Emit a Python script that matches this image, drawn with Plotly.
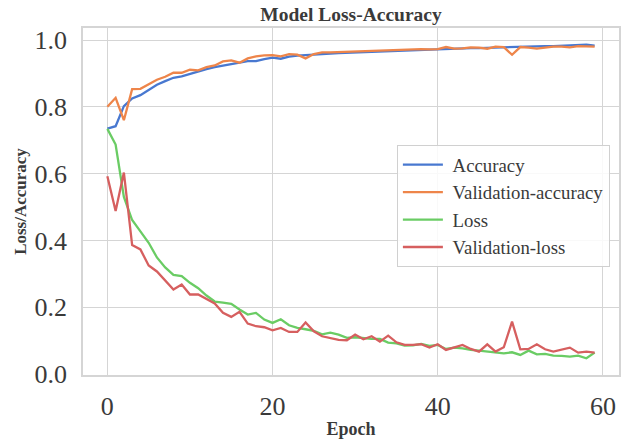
import plotly.graph_objects as go

epochs = list(range(60))

accuracy = [0.735, 0.742, 0.802, 0.825, 0.835, 0.850, 0.866, 0.877, 0.887, 0.891,
            0.899, 0.906, 0.913, 0.919, 0.923, 0.926, 0.932, 0.937, 0.937, 0.943,
            0.947, 0.944, 0.950, 0.953, 0.954, 0.956, 0.958, 0.959, 0.961, 0.962,
            0.963, 0.964, 0.965, 0.966, 0.968, 0.968, 0.969, 0.970, 0.971, 0.971,
            0.973, 0.974, 0.974, 0.975, 0.976, 0.976, 0.977, 0.978, 0.978, 0.979,
            0.980, 0.980, 0.981, 0.982, 0.982, 0.983, 0.983, 0.983, 0.986, 0.983]

val_accuracy = [0.800, 0.827, 0.760, 0.853, 0.854, 0.867, 0.881, 0.890, 0.902, 0.902,
                0.911, 0.909, 0.919, 0.924, 0.936, 0.939, 0.932, 0.945, 0.951, 0.954,
                0.955, 0.951, 0.958, 0.956, 0.945, 0.958, 0.963, 0.963, 0.964, 0.965,
                0.964, 0.967, 0.966, 0.968, 0.968, 0.970, 0.972, 0.973, 0.973, 0.972,
                0.973, 0.979, 0.974, 0.975, 0.978, 0.977, 0.974, 0.980, 0.979, 0.956,
                0.979, 0.977, 0.974, 0.977, 0.980, 0.980, 0.978, 0.982, 0.982, 0.980]

loss = [0.734, 0.687, 0.530, 0.461, 0.427, 0.393, 0.349, 0.319, 0.297, 0.293,
        0.273, 0.257, 0.235, 0.217, 0.214, 0.210, 0.193, 0.178, 0.183, 0.163,
        0.153, 0.164, 0.146, 0.138, 0.134, 0.129, 0.119, 0.124, 0.118, 0.108,
        0.110, 0.107, 0.105, 0.105, 0.094, 0.092, 0.085, 0.086, 0.090, 0.084,
        0.087, 0.075, 0.079, 0.077, 0.072, 0.070, 0.067, 0.065, 0.062, 0.065,
        0.057, 0.070, 0.059, 0.060, 0.055, 0.054, 0.052, 0.055, 0.047, 0.064]

val_loss = [0.592, 0.488, 0.603, 0.386, 0.373, 0.325, 0.307, 0.280, 0.253, 0.268,
            0.238, 0.238, 0.224, 0.211, 0.183, 0.171, 0.186, 0.151, 0.143, 0.140,
            0.131, 0.138, 0.126, 0.126, 0.154, 0.128, 0.113, 0.108, 0.102, 0.101,
            0.118, 0.104, 0.113, 0.097, 0.115, 0.095, 0.087, 0.087, 0.089, 0.079,
            0.089, 0.072, 0.079, 0.087, 0.075, 0.067, 0.089, 0.067, 0.080, 0.157,
            0.074, 0.075, 0.089, 0.074, 0.067, 0.074, 0.079, 0.064, 0.067, 0.064]

series = [
    ("Accuracy", accuracy, "#4878d0"),
    ("Validation-accuracy", val_accuracy, "#ee854a"),
    ("Loss", loss, "#6acc64"),
    ("Validation-loss", val_loss, "#d65f5f"),
]

x_ticks = [0, 20, 40, 60]
y_ticks = [0.0, 0.2, 0.4, 0.6, 0.8, 1.0]
y_tick_labels = ["0.0", "0.2", "0.4", "0.6", "0.8", "1.0"]

FONT = "Liberation Serif"
GRID = "#d5d5d5"
TXT = "#3a3a3a"

fig = go.Figure()
for name, vals, color in series:
    fig.add_trace(go.Scatter(
        x=epochs, y=vals, mode="lines", name="\u00a0" + name, legendgroup=name,
        line=dict(color=color, width=2.3),
    ))

fig.update_layout(
    width=639, height=440,
    margin=dict(l=83, r=20, t=28, b=64.5),
    paper_bgcolor="white", plot_bgcolor="white",
    font=dict(family=FONT, color=TXT),
    title=dict(text="<b>Model Loss-Accuracy</b>", x=(83 + 619) / 2 / 639, xanchor="center",
               y=1 - 14 / 440, yanchor="middle",
               font=dict(family=FONT, size=19.5, color=TXT)),
    showlegend=True,
    legend=dict(x=0.983, xanchor="right", y=0.663, yanchor="top",
                bgcolor="rgba(255,255,255,0.85)", bordercolor="#d0d0d0", borderwidth=1,
                font=dict(family=FONT, size=18.8, color=TXT),
                tracegroupgap=0, itemwidth=40),
)

fig.update_xaxes(
    range=[-2.95, 61.95], tickvals=x_ticks, ticktext=[str(t) for t in x_ticks],
    showgrid=True, gridcolor=GRID, gridwidth=1.3, zeroline=False,
    showline=True, linecolor=GRID, linewidth=1.5, mirror=True,
    ticks="", ticklabelstandoff=7, automargin=False,
    tickfont=dict(family=FONT, size=26, color=TXT),
    title=dict(text="<b>Epoch</b>", font=dict(family=FONT, size=18, color=TXT), standoff=2),
)
fig.update_yaxes(
    range=[-0.003, 1.036], tickvals=y_ticks, ticktext=y_tick_labels,
    showgrid=True, gridcolor=GRID, gridwidth=1.3, zeroline=False,
    showline=True, linecolor=GRID, linewidth=1.5, mirror=True,
    ticks="", ticklabelstandoff=9, automargin=False,
    tickfont=dict(family=FONT, size=26, color=TXT),
    title=dict(text="<b>Loss/Accuracy</b>", font=dict(family=FONT, size=17, color=TXT), standoff=4),
)

fig.write_html("out.html", config={"displayModeBar": False},
               post_script="document.body.style.margin='0';document.body.style.padding='0';")
